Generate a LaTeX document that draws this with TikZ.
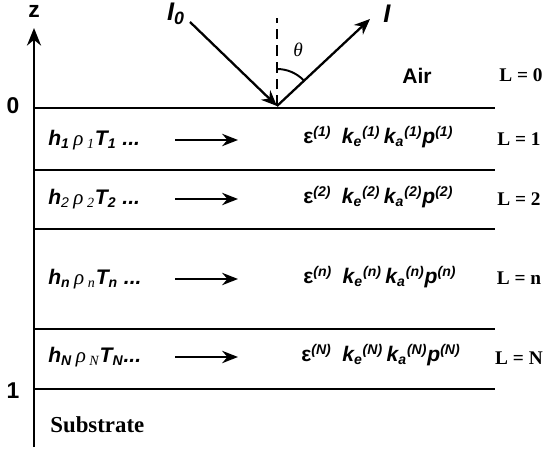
\documentclass[tikz,border=0pt]{standalone}
\usepackage{fontspec}
\setmainfont{Liberation Serif}
\setsansfont{Liberation Sans}
\usetikzlibrary{arrows.meta}

\newcommand{\rholayer}[1]{{\rmfamily\mdseries\itshape\,ρ\,\textsubscript{#1}}}
\newcommand{\optlayer}[1]{{\upshape ε}\textsuperscript{(#1)}\enspace k\textsubscript{e}\textsuperscript{(#1)}\,k\textsubscript{a}\textsuperscript{(#1)}p\textsuperscript{(#1)}}

\begin{document}
\begin{tikzpicture}[
        x=0.02cm, y=-0.02cm,
        layer/.style={line width=1.3pt},
        ray/.style={line width=1.3pt, -{Stealth[length=9pt, width=7.5pt]}},
        flow/.style={line width=1.3pt, -{Stealth[length=9pt, width=7pt]}},
        param/.style={anchor=west, inner sep=0pt, font=\sffamily\bfseries\itshape\fontsize{12}{14}\selectfont},
        level/.style={font=\rmfamily\bfseries\fontsize{11}{13}\selectfont},
        axis_label/.style={font=\sffamily\bfseries\fontsize{13}{15}\selectfont}
    ]
        \useasboundingbox (0,0) rectangle (550,456);

        % z axis
        \coordinate (zbot) at (34,447);
        \coordinate (ztop) at (34,28);
        \draw[layer, -{Stealth[length=10pt, width=8pt]}] (zbot) -- (ztop);
        \node[axis_label] (zlab) at (34,11) {z};
        \node[axis_label] (zero) at (13,106) {0};
        \node[axis_label] (one) at (13,391) {1};

        % Layer boundaries
        \foreach \y in {108,170,229,329,389}
            \draw[layer] (34,\y) -- (495,\y);

        % Incident and reflected light
        \coordinate (hit) at (277,106);
        \coordinate (src) at (190,22);
        \coordinate (refl) at (370,19);
        \coordinate (arcstart) at (277,69);
        \draw[line width=1.3pt, dash pattern=on 6pt off 3.5pt] (hit) -- (277,18);
        \draw[ray] (src) -- (hit);
        \draw[ray] (hit) -- (refl);
        \draw[line width=1.1pt] (arcstart) arc[start angle=-90, end angle=-44, radius=37];
        \node[font=\sffamily\bfseries\itshape\fontsize{14.5}{16}\selectfont] (Izero) at (176,14) {I\textsubscript{0}};
        \node[font=\sffamily\bfseries\itshape\fontsize{14.5}{16}\selectfont] (Iout) at (387,14) {I};
        \node[font=\rmfamily\itshape\fontsize{11}{13}\selectfont] (theta) at (298,50) {θ};

        % Air
        \node[font=\sffamily\bfseries\fontsize{12}{14}\selectfont] (air) at (417,76) {Air};
        \node[level] (L0) at (521,75) {L = 0};

        % Layer 1
        \node[param] (left1) at (48,140) {h\textsubscript{1}\rholayer{1}T\textsubscript{1} ...};
        \coordinate (a1) at (175,140);
        \coordinate (b1) at (238,140);
        \draw[flow] (a1) -- (b1);
        \node[param] (right1) at (303,137) {\optlayer{1}};
        \node[level] (L1) at (519,139) {L = 1};

        % Layer 2
        \node[param] (left2) at (48,199) {h\textsubscript{\mdseries 2}\rholayer{2}T\textsubscript{2} ...};
        \coordinate (a2) at (175,199);
        \coordinate (b2) at (238,199);
        \draw[flow] (a2) -- (b2);
        \node[param] (right2) at (303,197) {\optlayer{2}};
        \node[level] (L2) at (519,199) {L = 2};

        % Layer n
        \node[param] (leftn) at (48,279) {h\textsubscript{n}\rholayer{n}T\textsubscript{n} ...};
        \coordinate (an) at (175,279);
        \coordinate (bn) at (238,279);
        \draw[flow] (an) -- (bn);
        \node[param] (rightn) at (303,277) {\optlayer{n}};
        \node[level] (Ln) at (519,278) {L = n};

        % Layer N
        \node[param] (leftN) at (48,357) {h\textsubscript{N}\rholayer{N}T\textsubscript{N}...};
        \coordinate (aN) at (175,357);
        \coordinate (bN) at (238,357);
        \draw[flow] (aN) -- (bN);
        \node[param] (rightN) at (301,355) {\optlayer{N}};
        \node[level] (LN) at (519,358) {L = N};

        % Substrate
        \node[font=\rmfamily\bfseries\fontsize{13}{15}\selectfont, anchor=west, inner sep=0pt] (sub) at (50,425) {Substrate};

    \end{tikzpicture}
\end{document}
